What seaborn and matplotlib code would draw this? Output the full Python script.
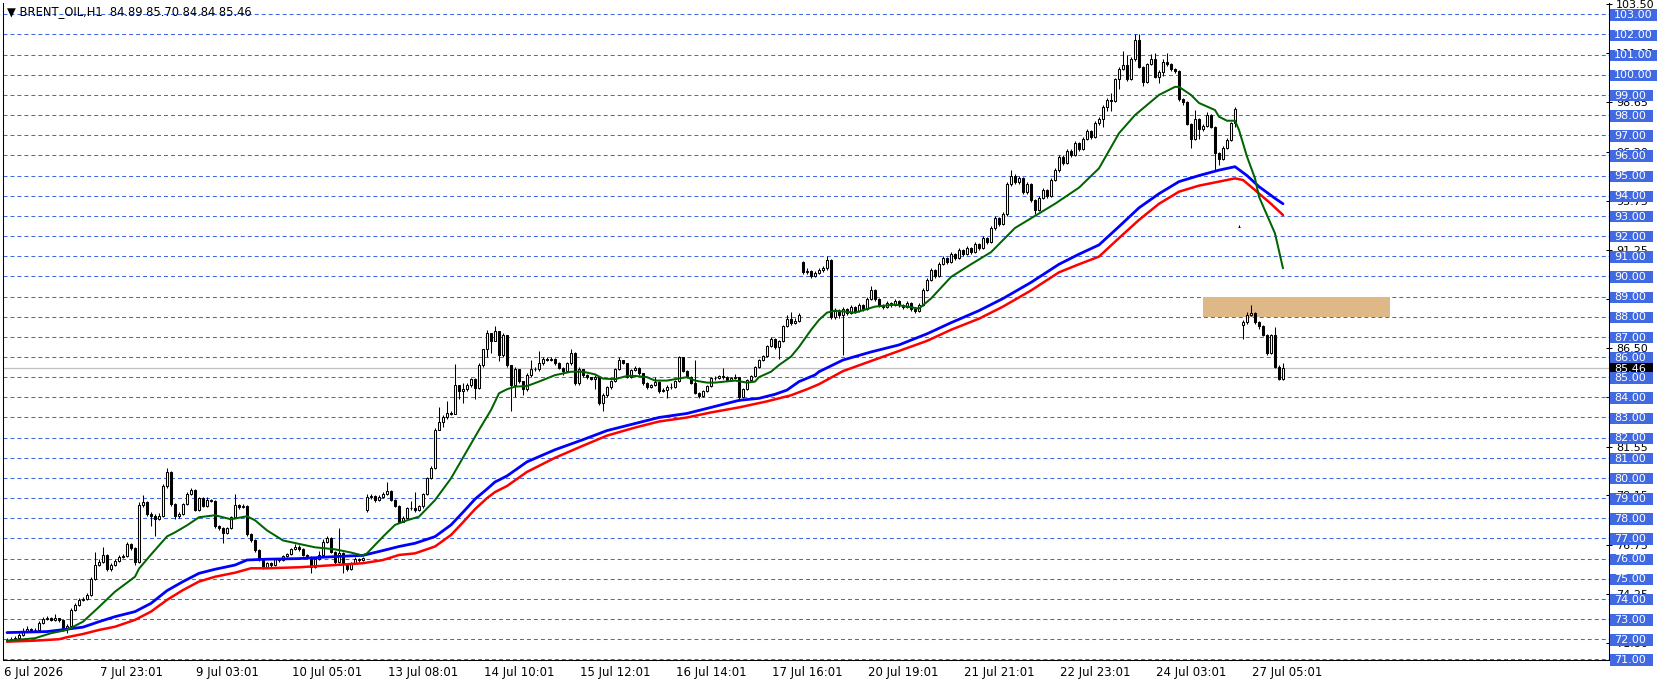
import numpy as np
import pandas as pd
import matplotlib
matplotlib.use("Agg")
import matplotlib.pyplot as plt
import matplotlib.transforms as mtransforms
from matplotlib.patches import Rectangle
import seaborn as sns

# ---- hourly BRENT_OIL candles (24 bars per two lines) ----
close = [
    71.95, 72.00, 72.05, 72.20, 72.40, 72.50, 72.45, 72.45, 72.80, 73.00, 73.05, 72.95,
    73.05, 72.95, 72.50, 72.65, 73.45, 73.70, 73.95, 74.00, 74.20, 75.00, 75.70, 75.85,
    76.20, 75.47, 75.70, 75.90, 76.10, 76.15, 76.70, 76.55, 75.85, 78.66, 78.80, 78.20,
    78.10, 77.98, 78.10, 79.60, 80.30, 78.70, 78.10, 78.20, 78.70, 79.20, 79.40, 78.40,
    78.99, 78.60, 78.90, 78.85, 77.60, 77.50, 77.25, 77.50, 78.05, 78.66, 78.55, 78.60,
    77.20, 76.90, 76.43, 76.00, 75.60, 75.80, 75.70, 76.00, 75.95, 76.15, 76.25, 76.50,
    76.60, 76.50, 76.20, 76.10, 75.60, 76.00, 76.20, 76.80, 77.00, 76.35, 75.85, 76.30,
    75.75, 75.50, 75.80, 76.00, 75.95, 76.05, 79.07, 79.10, 78.90, 79.07, 79.20, 79.37,
    78.90, 78.60, 77.83, 78.00, 78.50, 78.50, 78.40, 78.60, 79.20, 80.00, 80.50, 82.40,
    82.80, 83.00, 83.20, 83.15, 84.60, 84.30, 84.40, 84.60, 84.90, 84.45, 85.60, 86.40,
    87.20, 86.80, 87.30, 86.10, 87.10, 85.60, 84.60, 85.40, 84.80, 84.40, 85.10, 85.40,
    85.40, 85.70, 85.90, 85.85, 85.90, 85.70, 85.45, 85.30, 85.70, 86.20, 84.70, 85.40,
    85.10, 85.00, 84.90, 85.00, 83.70, 84.10, 84.50, 84.80, 85.40, 85.85, 85.70, 85.00,
    85.35, 85.45, 85.20, 84.70, 84.50, 84.60, 84.75, 84.30, 84.35, 84.50, 84.50, 84.80,
    86.00, 85.30, 85.00, 84.70, 84.20, 84.05, 84.30, 84.55, 84.95, 84.95, 85.05, 85.00,
    84.85, 84.95, 85.00, 84.00, 84.40, 84.85, 85.05, 85.50, 85.85, 86.05, 86.55, 86.90,
    86.50, 86.80, 87.55, 87.90, 87.70, 87.80, 88.10, 90.20, 90.25, 90.00, 90.15, 90.30,
    90.40, 90.80, 88.00, 88.30, 88.10, 88.40, 88.20, 88.50, 88.30, 88.60, 88.40, 88.90,
    89.30, 88.90, 88.60, 88.50, 88.70, 88.60, 88.80, 88.60, 88.50, 88.70, 88.40, 88.30,
    88.60, 89.30, 89.80, 90.30, 90.00, 90.60, 90.90, 90.70, 91.10, 90.90, 91.30, 91.10,
    91.40, 91.20, 91.60, 91.40, 91.90, 91.70, 92.40, 92.90, 92.60, 93.10, 94.60, 95.00,
    94.70, 94.90, 94.20, 94.60, 93.80, 93.30, 93.90, 94.30, 94.00, 94.80, 95.30, 95.90,
    95.60, 96.20, 96.00, 96.60, 96.30, 96.80, 97.20, 96.90, 97.60, 97.80, 98.40, 98.75,
    98.70, 99.80, 100.30, 100.50, 99.80, 100.80, 101.70, 100.40, 99.65, 100.55, 100.80, 99.90,
    100.15, 100.65, 100.55, 100.27, 100.20, 98.78, 98.65, 97.56, 96.80, 97.80, 97.30, 97.45,
    98.00, 97.40, 96.10, 95.80, 96.35, 96.75, 97.60, 98.30, 92.45, 87.75, 88.10, 88.20,
    87.75, 87.55, 87.10, 86.20, 87.10, 85.50, 84.89, 85.46,
]
high = [
    72.05, 72.10, 72.15, 72.30, 72.55, 72.65, 72.55, 72.55, 72.90, 73.10, 73.15, 73.10,
    73.25, 73.05, 73.00, 72.75, 73.55, 73.80, 74.05, 74.10, 74.30, 75.10, 76.35, 76.00,
    76.60, 76.25, 75.80, 76.00, 76.20, 76.25, 76.80, 76.75, 76.60, 78.80, 79.15, 78.85,
    78.30, 78.20, 78.25, 79.70, 80.50, 80.35, 78.75, 78.30, 78.75, 79.30, 79.50, 79.45,
    79.05, 79.05, 79.05, 78.95, 78.90, 77.65, 77.55, 77.55, 78.10, 79.20, 78.70, 78.70,
    78.65, 77.25, 76.95, 76.50, 76.05, 75.85, 75.85, 76.05, 76.05, 76.20, 76.30, 76.55,
    76.70, 76.65, 76.55, 76.25, 76.15, 76.05, 76.40, 76.95, 77.10, 77.05, 76.40, 77.50,
    76.35, 75.80, 75.85, 76.10, 76.05, 76.10, 79.20, 79.20, 79.15, 79.15, 79.30, 79.80,
    79.40, 78.95, 78.65, 78.10, 78.55, 78.85, 79.30, 78.65, 79.25, 80.05, 80.60, 82.50,
    83.50, 83.10, 83.80, 83.30, 85.65, 84.60, 84.70, 84.70, 84.95, 84.95, 85.70, 86.40,
    87.35, 87.20, 87.55, 87.30, 87.20, 87.10, 85.60, 85.50, 85.40, 84.80, 85.20, 85.85,
    85.50, 86.30, 86.00, 86.00, 86.00, 85.95, 85.75, 85.50, 85.75, 86.40, 86.25, 85.50,
    85.40, 85.15, 85.00, 85.10, 85.00, 84.20, 84.55, 84.85, 85.45, 86.00, 85.85, 85.70,
    85.40, 85.55, 85.50, 85.20, 84.75, 84.65, 85.00, 84.80, 84.45, 84.60, 84.70, 84.85,
    86.05, 86.00, 85.35, 85.05, 85.85, 84.25, 84.35, 84.60, 85.00, 85.05, 85.10, 85.45,
    85.05, 85.00, 85.15, 85.00, 84.45, 84.90, 85.10, 85.55, 85.90, 86.10, 86.60, 87.00,
    86.95, 86.85, 87.60, 88.10, 88.25, 87.95, 88.20, 90.75, 90.40, 90.30, 90.25, 90.40,
    90.50, 91.00, 90.85, 88.45, 88.40, 88.50, 88.45, 88.60, 88.55, 88.70, 88.65, 89.00,
    89.50, 89.35, 88.95, 88.65, 88.80, 88.75, 88.90, 88.85, 88.65, 88.80, 88.75, 88.50,
    88.70, 89.40, 89.90, 90.40, 90.35, 90.70, 91.00, 90.95, 91.20, 91.15, 91.40, 91.35,
    91.50, 91.45, 91.70, 91.65, 92.00, 91.95, 92.50, 93.00, 92.95, 93.20, 94.70, 95.30,
    95.10, 95.00, 94.95, 94.70, 94.65, 93.85, 94.00, 94.40, 94.35, 94.90, 95.40, 96.00,
    96.00, 96.30, 96.30, 96.70, 96.65, 96.90, 97.30, 97.25, 97.70, 97.90, 98.50, 98.85,
    99.10, 99.85, 100.40, 101.20, 101.00, 100.90, 102.00, 102.00, 100.45, 100.60, 101.05, 101.10,
    100.25, 100.80, 101.10, 100.60, 100.35, 100.25, 98.85, 98.70, 97.60, 98.25, 97.85, 97.55,
    98.17, 98.05, 97.45, 96.15, 96.45, 96.85, 97.65, 98.40, 92.55, 87.85, 88.25, 88.58,
    88.25, 87.80, 87.60, 87.15, 87.15, 87.50, 85.60, 85.70,
]
low = [
    71.85, 71.90, 71.95, 72.00, 72.15, 72.35, 72.35, 72.35, 72.40, 72.75, 72.95, 72.90,
    72.90, 72.85, 72.40, 72.30, 72.60, 73.40, 73.65, 73.90, 73.95, 74.15, 74.95, 75.65,
    75.80, 75.40, 75.40, 75.65, 75.85, 76.05, 76.10, 76.45, 75.70, 75.80, 78.55, 78.10,
    77.60, 77.10, 77.90, 78.05, 79.50, 78.60, 77.95, 78.00, 78.15, 78.65, 79.15, 78.35,
    78.35, 78.55, 78.55, 78.80, 77.50, 77.40, 76.76, 77.20, 77.45, 78.00, 78.45, 78.50,
    77.10, 76.80, 76.35, 75.90, 75.50, 75.55, 75.60, 75.65, 75.85, 75.90, 76.10, 76.20,
    76.45, 76.40, 76.15, 76.00, 75.30, 75.55, 75.95, 76.15, 76.75, 76.30, 75.75, 75.80,
    75.30, 75.40, 75.45, 75.75, 75.85, 75.90, 78.30, 78.95, 78.80, 78.85, 79.00, 79.15,
    78.85, 78.55, 77.75, 77.80, 77.95, 78.40, 78.30, 78.35, 78.50, 79.15, 79.95, 80.45,
    82.40, 82.55, 82.90, 83.10, 83.15, 83.90, 83.70, 84.30, 84.50, 83.90, 84.40, 85.50,
    86.00, 86.20, 86.80, 85.80, 86.00, 85.50, 83.30, 84.00, 84.70, 84.10, 84.30, 85.00,
    85.30, 85.30, 85.60, 85.80, 85.80, 85.60, 85.40, 85.10, 85.30, 85.60, 84.60, 84.60,
    85.00, 84.90, 84.85, 84.40, 83.60, 83.30, 84.00, 84.40, 84.75, 85.35, 85.65, 84.95,
    84.95, 85.30, 85.10, 84.60, 84.40, 84.45, 84.55, 84.20, 84.25, 83.95, 84.40, 84.45,
    84.75, 85.25, 84.95, 84.65, 84.15, 83.95, 84.00, 84.25, 84.50, 84.85, 84.90, 84.90,
    84.80, 84.80, 84.90, 83.80, 83.95, 84.35, 84.80, 85.00, 85.45, 85.80, 86.00, 86.50,
    86.40, 85.90, 86.75, 87.50, 87.60, 87.65, 87.75, 90.10, 90.10, 89.90, 89.95, 90.10,
    90.20, 90.30, 87.90, 87.90, 87.95, 86.10, 88.10, 88.15, 88.20, 88.25, 88.30, 88.35,
    88.85, 88.80, 88.50, 88.40, 88.45, 88.50, 88.55, 88.50, 88.40, 88.45, 88.30, 88.20,
    88.25, 88.55, 89.25, 89.75, 89.90, 89.95, 90.55, 90.60, 90.65, 90.80, 90.85, 91.00,
    91.05, 91.10, 91.15, 91.30, 91.35, 91.60, 91.65, 92.30, 92.50, 92.55, 93.00, 94.50,
    94.60, 94.60, 94.10, 94.10, 93.70, 93.10, 93.25, 93.85, 93.90, 93.95, 94.75, 95.20,
    95.50, 95.55, 95.90, 95.95, 96.20, 96.25, 96.75, 96.80, 96.85, 97.50, 97.40, 98.20,
    98.20, 98.65, 99.30, 100.25, 99.70, 99.75, 100.70, 100.35, 99.45, 99.60, 100.50, 99.85,
    99.60, 99.95, 100.45, 100.20, 100.10, 98.70, 98.50, 97.50, 96.35, 96.75, 96.80, 97.20,
    97.40, 97.35, 95.30, 95.50, 95.75, 96.30, 96.70, 97.40, 92.45, 86.90, 87.65, 88.05,
    87.65, 87.40, 87.05, 86.10, 86.15, 85.45, 84.86, 84.84,
]
# bars whose open is not the previous close (session gaps)
gap_open = {0: 71.90, 90: 78.41, 199: 90.70, 308: 92.45, 309: 87.60}

# ---- moving averages (bar index, price) ----
green_bar = [0, 7, 11, 15, 19, 23, 27, 32, 33, 36, 40, 42, 45, 48, 52, 54, 56, 60, 62, 65,
             69, 73, 77, 82, 86, 89, 90, 94, 97, 100, 103, 107, 111, 118, 121, 123, 125, 127,
             130, 133, 135, 137, 141, 144, 147, 149, 152, 155, 157, 160, 162, 165, 167, 170,
             172, 175, 177, 182, 185, 187, 188, 191, 193, 196, 198, 201, 203, 205, 207, 212,
             217, 222, 228, 231, 236, 241, 246, 252, 257, 262, 268, 273, 278, 282, 285, 288,
             292, 293, 296, 298, 302, 303, 305, 307, 308, 310, 312, 313, 317, 319]
green_val = [71.93, 72.05, 72.30, 72.46, 72.87, 73.60, 74.36, 75.10, 75.50, 76.20, 77.10, 77.30,
             77.65, 78.05, 78.15, 78.05, 77.95, 78.10, 77.90, 77.40, 76.90, 76.73, 76.56, 76.46,
             76.30, 76.15, 76.26, 77.09, 77.67, 77.90, 78.08, 78.90, 79.98, 82.38, 83.37, 84.20,
             84.40, 84.53, 84.56, 84.78, 84.94, 85.10, 85.27, 85.27, 85.14, 84.93, 84.90, 85.06,
             85.06, 85.00, 84.83, 84.83, 84.90, 85.00, 84.83, 84.73, 84.73, 84.83, 84.73, 84.78,
             85.00, 85.27, 85.60, 86.02, 86.50, 87.34, 87.84, 88.20, 88.30, 88.20, 88.50, 88.60,
             88.40, 88.90, 89.97, 90.60, 91.20, 92.40, 93.00, 93.60, 94.40, 95.36, 97.10, 98.00,
             98.50, 99.00, 99.40, 99.40, 99.00, 98.60, 98.25, 97.92, 97.72, 97.72, 97.26, 95.94,
             94.86, 93.95, 92.13, 90.40]
blue_bar = [0, 10, 15, 19, 23, 27, 32, 36, 40, 44, 48, 52, 57, 60, 65, 73, 82, 89, 94, 98,
            102, 107, 111, 114, 117, 120, 122, 125, 130, 137, 144, 150, 157, 163, 170, 176,
            183, 188, 192, 195, 198, 202, 203, 209, 216, 223, 230, 236, 243, 249, 256, 263,
            268, 273, 278, 283, 288, 293, 298, 303, 307, 310, 313, 317, 319]
blue_val = [72.33, 72.38, 72.50, 72.60, 72.87, 73.12, 73.37, 73.78, 74.41, 74.86, 75.27, 75.47,
            75.68, 75.93, 75.97, 76.00, 76.10, 76.16, 76.40, 76.60, 76.76, 77.09, 77.67, 78.30,
            78.95, 79.45, 79.80, 80.10, 80.80, 81.40, 81.90, 82.35, 82.70, 83.00, 83.20, 83.50,
            83.85, 83.95, 84.15, 84.36, 84.78, 85.11, 85.27, 85.85, 86.25, 86.60, 87.15, 87.70,
            88.30, 88.90, 89.70, 90.60, 91.10, 91.56, 92.47, 93.40, 94.10, 94.70, 95.00, 95.27,
            95.44, 95.00, 94.45, 93.87, 93.60]
red_bar = [0, 7, 13, 15, 19, 23, 27, 32, 36, 40, 44, 48, 52, 57, 61, 65, 73, 82, 89, 94, 98,
           102, 107, 111, 114, 117, 120, 122, 125, 130, 137, 144, 150, 157, 163, 170, 176, 183,
           190, 196, 200, 203, 209, 216, 223, 230, 236, 243, 249, 256, 263, 268, 273, 278, 283,
           288, 293, 298, 303, 307, 309, 312, 316, 319]
red_val = [71.88, 71.93, 72.00, 72.10, 72.26, 72.46, 72.62, 72.96, 73.37, 73.95, 74.44, 74.86,
           75.10, 75.30, 75.52, 75.52, 75.57, 75.68, 75.77, 75.93, 76.18, 76.26, 76.60, 77.17,
           77.80, 78.45, 79.00, 79.30, 79.60, 80.30, 81.00, 81.60, 82.10, 82.50, 82.80, 83.00,
           83.25, 83.50, 83.80, 84.10, 84.40, 84.65, 85.30, 85.80, 86.30, 86.80, 87.35, 87.90,
           88.50, 89.30, 90.20, 90.60, 90.98, 91.90, 92.80, 93.60, 94.20, 94.50, 94.70, 94.86,
           94.78, 94.28, 93.60, 93.04]

# ---- axis text ----
date_labels = ["6 Jul 2026", "7 Jul 23:01", "9 Jul 03:01", "10 Jul 05:01", "13 Jul 08:01",
               "14 Jul 10:01", "15 Jul 12:01", "16 Jul 14:01", "17 Jul 16:01", "20 Jul 19:01",
               "21 Jul 21:01", "22 Jul 23:01", "24 Jul 03:01", "27 Jul 05:01"]
scale_vals = [103.50, 101.06, 98.63, 96.19, 93.75, 91.31, 88.88, 86.44, 84.00, 81.56,
              79.13, 76.69, 74.25, 71.81]
scale_text = ["103.50", "101.05", "98.65", "96.20", "93.75", "91.25", "88.90", "86.50",
              "84.00", "81.55", "79.15", "76.75", "74.25", "71.80"]
grid_levels = list(range(71, 104))
last_price = 85.46
zone = (299, 345.75, 88.0, 89.0)   # bar from, bar to, price low, price high
title = "\u25bc BRENT_OIL,H1  84.89 85.70 84.84 85.46"

# ---- build frame ----
df = pd.DataFrame({"close": close, "high": high, "low": low})
df["open"] = df["close"].shift(1)
for k, v in gap_open.items():
    df.loc[k, "open"] = v
df["bar"] = np.arange(len(df))
df["high"] = df[["high", "open", "close"]].max(axis=1)
df["low"] = df[["low", "open", "close"]].min(axis=1)
up = df["close"] >= df["open"]

sns.set_style("white")
plt.rcParams["font.family"] = ["DejaVu Sans"]

W, H = 1658, 684
fig = plt.figure(figsize=(W / 100, H / 100), dpi=100)
ax = fig.add_axes([3 / W, 24 / H, 1606 / W, 657 / H])
ax.set_facecolor("white")

grid_col = "#4169E1"
for lv in grid_levels:
    ax.axhline(lv, color=grid_col, lw=0.75, ls=(0, (3.8, 2.9)), zorder=1)
ax.axhline(last_price, color="#C0C0C0", lw=0.9, zorder=1.5)

ax.add_patch(Rectangle((zone[0], zone[2]), zone[1] - zone[0], zone[3] - zone[2],
                       facecolor="#DEB887", edgecolor="none", zorder=2))

# candles
ax.vlines(df["bar"], df["low"], df["high"], color="black", lw=0.75, zorder=3)
body_lo = np.minimum(df["open"], df["close"])
body_h = np.maximum(np.abs(df["close"] - df["open"]), 0.015)
ax.bar(df["bar"], body_h, bottom=body_lo, width=0.6,
       color=np.where(up, "white", "black"), edgecolor="black", linewidth=0.75, zorder=4)

# moving averages
sns.lineplot(x=red_bar, y=red_val, ax=ax, color="#FF0000", lw=1.8, sort=False, zorder=5)
sns.lineplot(x=blue_bar, y=blue_val, ax=ax, color="#0000FF", lw=2.0, sort=False, zorder=5)
sns.lineplot(x=green_bar, y=green_val, ax=ax, color="#006400", lw=1.45, sort=False, zorder=6)

ax.set_xlim(-1, 400.5)
ax.set_ylim(70.97, 103.56)

# x axis
ax.set_xticks([24 * k - 0.85 for k in range(len(date_labels))])
ax.set_xticklabels(date_labels)
for lbl in ax.get_xticklabels():
    lbl.set_horizontalalignment("left")
ax.tick_params(axis="x", direction="out", length=3, width=0.75, pad=1.5,
               labelsize=8.5, colors="black")

# y axis on the right
ax.yaxis.tick_right()
ax.set_yticks(scale_vals)
ax.set_yticklabels(scale_text)
ax.tick_params(axis="y", direction="inout", length=4, width=0.75, pad=3,
               labelsize=8, colors="black")
ax.set_xlabel("")
ax.set_ylabel("")

for side in ["left", "bottom", "right"]:
    ax.spines[side].set_color("black")
    ax.spines[side].set_linewidth(0.75)
ax.spines["top"].set_visible(False)

# price boxes on the scale
tr = mtransforms.blended_transform_factory(fig.transFigure, ax.transData)
box_h = 0.565


def price_box(value, text, face, zo):
    w = 47 if len(text) > 5 else 43
    ax.add_patch(Rectangle((1610 / W, value - 0.32), w / W, box_h, transform=tr,
                           facecolor=face, edgecolor="none", clip_on=False, zorder=zo))
    ax.text(1614 / W, value - 0.035, text, transform=tr, color="white", fontsize=8,
            ha="left", va="center", clip_on=False, zorder=zo + 0.5)


price_box(last_price, f"{last_price:.2f}", "black", 8)
for lv in grid_levels:
    price_box(lv, f"{lv:.2f}", grid_col, 10)

fig.text(7 / W, 1 - 12 / H, title, fontsize=8.3, color="black", ha="left", va="center")

fig.savefig("out.png", dpi=100, facecolor="white")
